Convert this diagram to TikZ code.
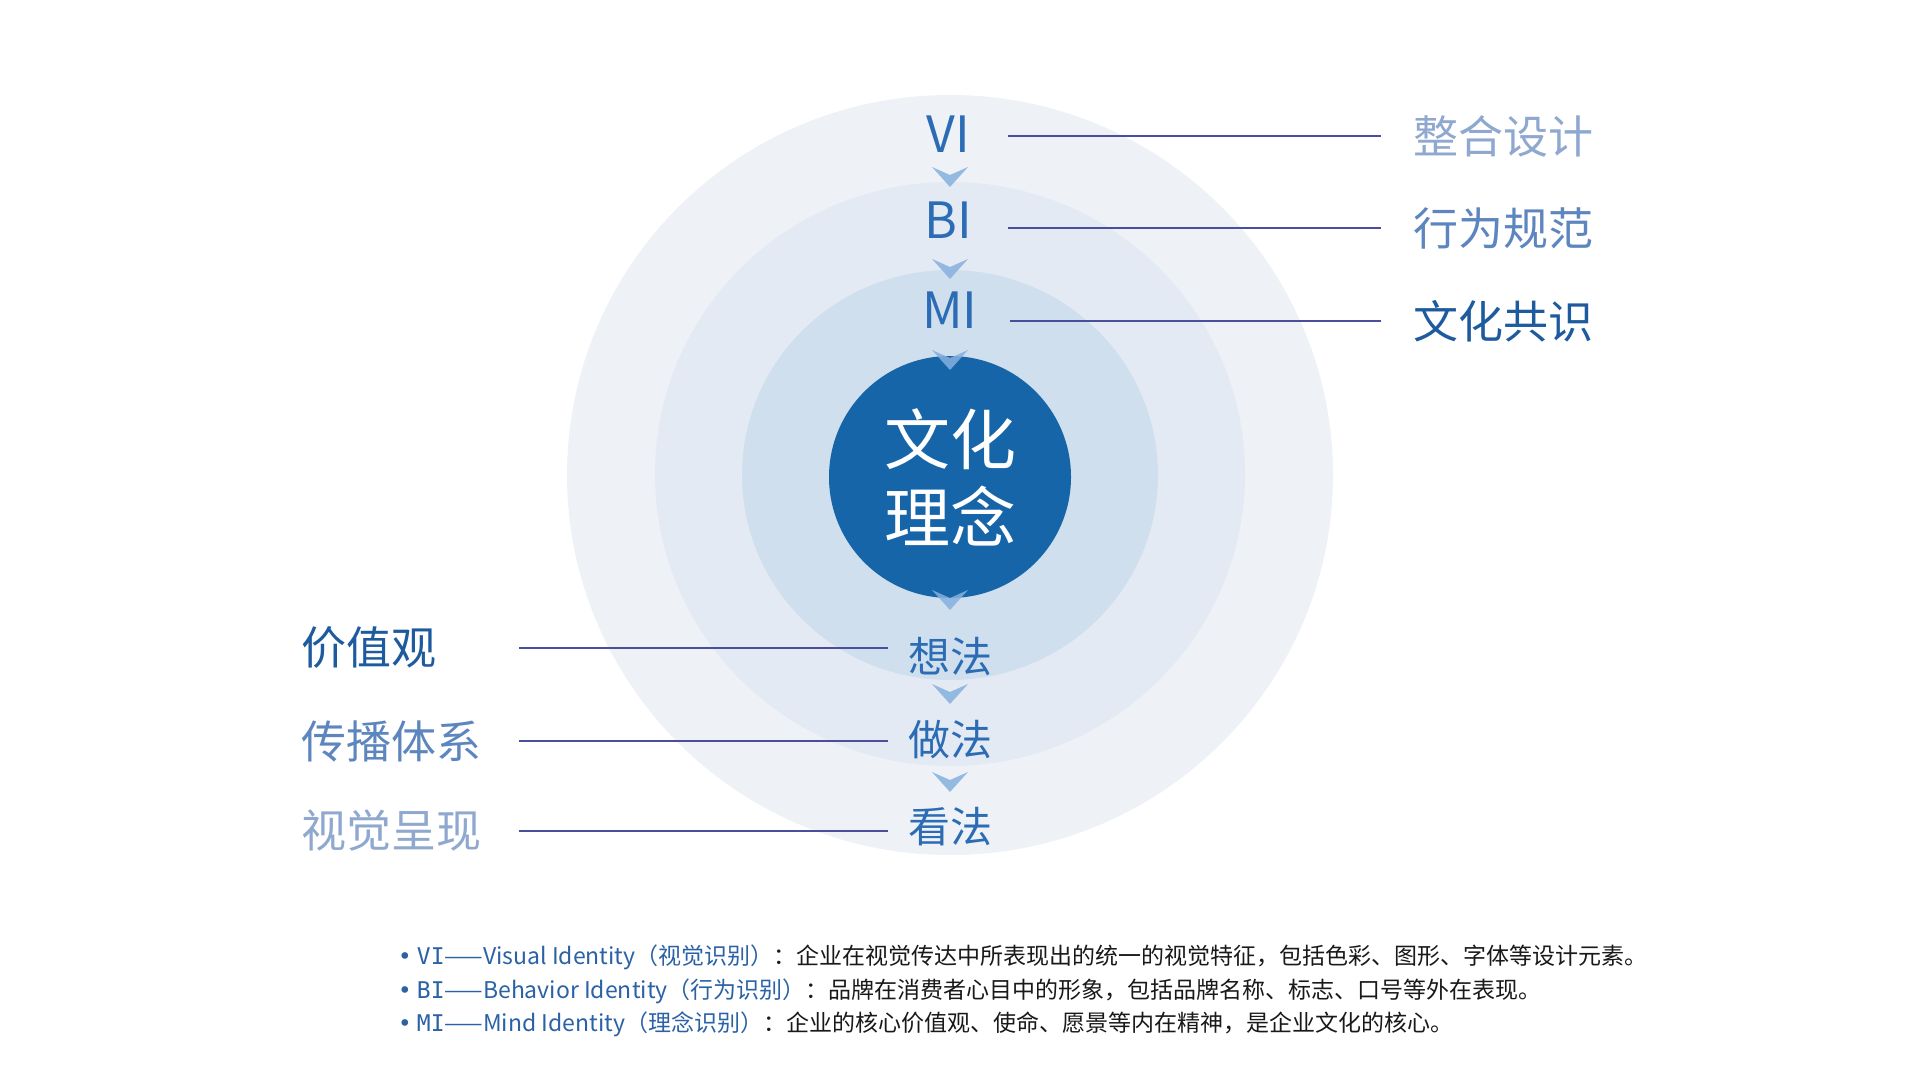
\documentclass[tikz,border=0pt]{standalone}
\usepackage{fontspec}
\setmainfont{Noto Sans CJK SC}
\newfontfamily\monofont{DejaVu Sans Mono}
\newfontfamily\dotfont{DejaVu Sans}
\usepackage{tikz}
\usetikzlibrary{positioning}

\definecolor{ringA}{HTML}{EEF1F6}
\definecolor{ringB}{HTML}{E3EAF3}
\definecolor{ringC}{HTML}{CFDFED}
\definecolor{coreblue}{HTML}{1665A8}
\definecolor{chevblue}{HTML}{86B1DF}
\definecolor{tagblue}{HTML}{2C6CB5}
\definecolor{linkpurple}{HTML}{4B4F9B}
\definecolor{lvlA}{HTML}{8FA8CF}
\definecolor{lvlB}{HTML}{5D86BF}
\definecolor{lvlC}{HTML}{1D5B9E}
\definecolor{noteblue}{HTML}{2B62A6}

\begin{document}
\begin{tikzpicture}[
    x=1pt, y=-1pt,
    every node/.style={inner sep=0pt},
    core/.style={circle, fill=coreblue, minimum size=242pt, text=white, align=center,
        font=\fontsize{66}{78}\selectfont},
    tag/.style={text=tagblue, minimum width=70pt, font=\fontsize{50}{60}\selectfont},
    stage/.style={text=tagblue, minimum width=70pt, font=\fontsize{42}{50}\selectfont},
    goal/.style={anchor=west, font=\fontsize{45}{54}\selectfont},
    side/.style={anchor=west, text width=200pt, align=left, font=\fontsize{45}{54}\selectfont},
    chev/.style={fill=chevblue, fill opacity=0.85},
    link/.style={draw=linkpurple, line width=2pt},
    note/.style={anchor=west, text=black!90, font=\fontsize{23}{27}\selectfont}
]
    \useasboundingbox (0,0) rectangle (1906,1078);
    \fill[white] (0,0) rectangle (1906,1078);

    % Rings
    \fill[ringA] (950,475) ellipse [x radius=383pt, y radius=380pt];
    \fill[ringB] (950,474) ellipse [x radius=295pt, y radius=292pt];
    \fill[ringC] (950,475) ellipse [x radius=208pt, y radius=205pt];

    % Core
    \node[core] (core) at (950,477) {文化\\理念};

    % Outer layers, top
    \node[tag] (vi) at (948,134) {VI};
    \node[tag] (bi) at (948,220) {BI};
    \node[tag] (mi) at (950,310) {MI};

    % Outer layers, bottom
    \node[stage] (xiangfa) at (950,657) {想法};
    \node[stage] (zuofa) at (950,740) {做法};
    \node[stage] (kanfa) at (950,827) {看法};

    % Chevrons
    \foreach \y in {177,269,360,600,694,782}
        \fill[chev] (950,\y) +(-18,-10) -- +(0,-2) -- +(18,-10) -- +(0,10) -- cycle;

    % Right labels
    \node[goal, text=lvlA] (zhenghe) at (1413,136) {整合设计};
    \node[goal, text=lvlB] (xingwei) at (1413,228) {行为规范};
    \node[goal, text=lvlC] (gongshi) at (1413,321) {文化共识};

    % Left labels
    \node[side, text=lvlC] (jiazhi) at (301,648) {价值观};
    \node[side, text=lvlB] (chuanbo) at (301,741) {传播体系};
    \node[side, text=lvlA] (chengxian) at (301,831) {视觉呈现};

    % Links
    \draw[link, shorten <=25pt, shorten >=32pt] (vi.east |- zhenghe.west) -- (zhenghe.west);
    \draw[link, shorten <=25pt, shorten >=32pt] (bi.east |- xingwei.west) -- (xingwei.west);
    \draw[link, shorten <=25pt, shorten >=32pt] (mi.east |- gongshi.west) -- (gongshi.west);
    \draw[link, shorten <=18pt, shorten >=20pt] (jiazhi.east) -- (jiazhi.east -| xiangfa.west);
    \draw[link, shorten <=18pt, shorten >=20pt] (chuanbo.east) -- (chuanbo.east -| zuofa.west);
    \draw[link, shorten <=18pt, shorten >=20pt] (chengxian.east) -- (chengxian.east -| kanfa.west);

    % Notes
    \node[note] (note1) at (398,957) {{\color{noteblue}{\dotfont •} {\monofont VI}——Visual Identity（视觉识别）}：企业在视觉传达中所表现出的统一的视觉特征，包括色彩、图形、字体等设计元素。};
    \node[note] (note2) at (398,991) {{\color{noteblue}{\dotfont •} {\monofont BI}——Behavior Identity（行为识别）}：品牌在消费者心目中的形象，包括品牌名称、标志、口号等外在表现。};
    \node[note] (note3) at (398,1024) {{\color{noteblue}{\dotfont •} {\monofont MI}——Mind Identity（理念识别）}：企业的核心价值观、使命、愿景等内在精神，是企业文化的核心。};
\end{tikzpicture}
\end{document}
